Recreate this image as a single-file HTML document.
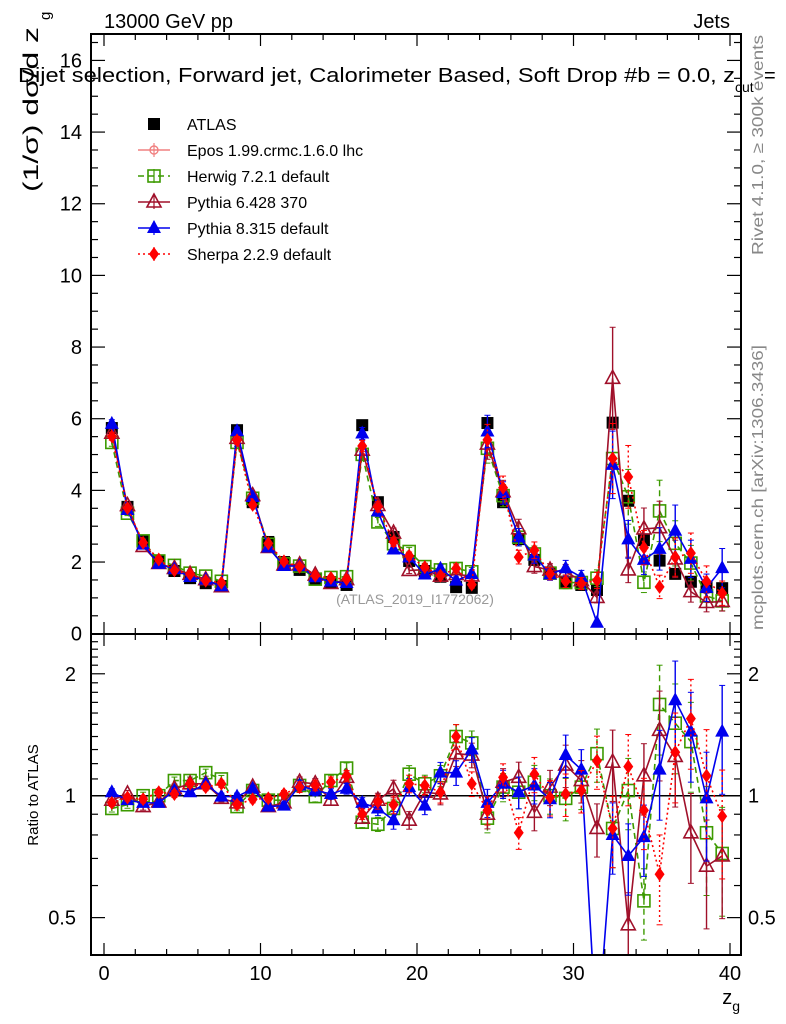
<!DOCTYPE html>
<html><head><meta charset="utf-8">
<style>
html,body{margin:0;padding:0;background:#fff;}
svg{display:block;font-family:"Liberation Sans",sans-serif;}
</style></head>
<body>
<svg id="chart" width="786" height="1024" viewBox="0 0 786 1024" xmlns="http://www.w3.org/2000/svg">
<rect x="0" y="0" width="786" height="1024" fill="#fff"/>
<g id="main"></g>
<g id="ratio"></g>
<g id="axes"></g>
<text x="104" y="28" font-size="20">13000 GeV pp</text>
<text x="730" y="28" font-size="20" text-anchor="end">Jets</text>
<text x="18" y="82" font-size="20" textLength="717" lengthAdjust="spacingAndGlyphs">Dijet selection, Forward jet, Calorimeter Based, Soft Drop #b = 0.0, z</text>
<text x="735" y="92" font-size="14">cut</text>
<text x="764" y="82" font-size="20">=</text>
<text transform="translate(38,192) rotate(-90)" font-size="21" textLength="165" lengthAdjust="spacingAndGlyphs">(1/σ) dσ/d z</text>
<text transform="translate(50,20) rotate(-90)" font-size="15">g</text>
<text transform="translate(38,795) rotate(-90)" font-size="15" text-anchor="middle">Ratio to ATLAS</text>
<text x="740" y="1004" font-size="20" text-anchor="end">z<tspan font-size="14" dy="7">g</tspan></text>
<text transform="translate(763,255) rotate(-90)" font-size="16" fill="#888" textLength="220" lengthAdjust="spacingAndGlyphs">Rivet 4.1.0, ≥ 300k events</text>
<text transform="translate(763,630) rotate(-90)" font-size="16" fill="#888" textLength="285" lengthAdjust="spacingAndGlyphs">mcplots.cern.ch [arXiv:1306.3436]</text>
<text x="415" y="604" font-size="14" fill="#999" text-anchor="middle">(ATLAS_2019_I1772062)</text>
<g id="legend"></g>
</svg>
<script>
// ---- data ----
const binCenters = [0.5,1.5,2.5,3.5,4.5,5.5,6.5,7.5,8.5,9.5,10.5,11.5,12.5,13.5,14.5,15.5,16.5,17.5,18.5,19.5,20.5,21.5,22.5,23.5,24.5,25.5,26.5,27.5,28.5,29.5,30.5,31.5,32.5,33.5,34.5,35.5,36.5,37.5,38.5,39.5];
const atlasValues = [5.74,3.54,2.59,2.03,1.75,1.55,1.41,1.33,5.68,3.67,2.56,2.0,1.78,1.53,1.44,1.36,5.82,3.67,2.7,2.03,1.75,1.59,1.30,1.28,5.88,3.67,2.64,2.06,1.69,1.45,1.36,1.22,5.89,3.71,2.61,2.04,1.67,1.45,1.30,1.27];
const herwigRatio = [0.93,0.95,1.0,1.0,1.09,1.09,1.14,1.10,0.94,1.03,0.975,0.975,1.06,0.995,1.09,1.17,0.86,0.85,0.93,1.13,1.07,1.12,1.40,1.35,0.88,1.05,1.02,1.08,1.0,0.985,1.05,1.27,0.83,1.03,0.55,1.68,1.51,1.36,0.81,0.72];
const pythia6Ratio = [0.975,1.01,0.94,0.965,1.04,1.07,1.07,0.985,0.96,1.05,0.94,0.96,1.08,1.07,0.975,1.11,0.88,0.975,1.04,0.87,1.02,1.01,1.27,1.26,0.90,1.08,1.11,0.91,1.05,1.19,1.09,0.83,1.21,0.48,1.12,1.45,1.25,0.81,0.67,0.71];
const pythia8Ratio = [1.02,0.975,0.96,0.96,1.03,1.02,1.07,0.995,0.995,1.04,0.94,0.945,1.06,1.03,1.01,1.04,0.96,0.93,0.87,1.05,0.945,1.14,1.14,1.30,0.96,1.07,1.02,1.06,0.98,1.26,1.16,0.25,0.80,0.71,0.79,1.16,1.72,1.44,0.985,1.44];
const sherpaRatio = [0.96,0.99,0.98,1.02,1.01,1.07,1.05,1.07,0.95,0.98,0.985,1.01,1.05,1.06,1.08,1.12,0.90,0.965,0.95,1.07,1.06,1.02,1.40,1.07,0.92,1.11,0.81,1.13,0.99,1.01,1.03,1.22,0.83,1.18,0.92,0.64,1.28,1.55,1.12,0.89];
const modelRelErr = [0.02,0.02,0.02,0.02,0.02,0.02,0.02,0.02,0.02,0.02,0.02,0.02,0.03,0.03,0.03,0.03,0.03,0.04,0.05,0.05,0.05,0.06,0.07,0.07,0.08,0.08,0.09,0.1,0.1,0.12,0.12,0.15,0.2,0.2,0.2,0.25,0.25,0.25,0.3,0.3];
const mainTicks = [0,2,4,6,8,10,12,14,16];
const ratioTicks = [0.5,1,2];
const xTicks = [0,10,20,30,40];

// ---- geometry ----
const L=91,R=741,T=34,MB=634,RB=955;
const xs = v => 104 + v*15.65;
const ys = v => 633.7 - v*35.83;
const yr = v => 795.7 - 405*Math.log10(v);
const NS="http://www.w3.org/2000/svg";
function mk(tag, attrs, parent){const e=document.createElementNS(NS,tag);for(const k in attrs)e.setAttribute(k,attrs[k]);parent.appendChild(e);return e;}
const main=document.getElementById('main'), ratio=document.getElementById('ratio'), axes=document.getElementById('axes'), legend=document.getElementById('legend');

const defs=mk('defs',{},document.getElementById('chart'));
const c1=mk('clipPath',{id:'cm'},defs); mk('rect',{x:L,y:T,width:R-L,height:MB-T},c1);
const c2=mk('clipPath',{id:'cr'},defs); mk('rect',{x:L,y:MB,width:R-L,height:RB-MB},c2);
main.setAttribute('clip-path','url(#cm)'); ratio.setAttribute('clip-path','url(#cr)');

const refLine=mk('line',{x1:L,x2:R,y1:yr(1),y2:yr(1),stroke:'#000','stroke-width':1.5},ratio);



function marker(g, type, x, y, color){
  let e;
  if(type==='square'){e=mk('rect',{x:x-6,y:y-6,width:12,height:12,fill:'#000'},g);}
  else if(type==='osquare'){e=mk('rect',{x:x-6,y:y-6,width:12,height:12,fill:'none',stroke:color,'stroke-width':1.6},g);}
  else if(type==='otri'){e=mk('polygon',{points:`${x},${y-8} ${x-7},${y+5} ${x+7},${y+5}`,fill:'none',stroke:color,'stroke-width':1.6},g);}
  else if(type==='tri'){e=mk('polygon',{points:`${x},${y-8} ${x-7},${y+5} ${x+7},${y+5}`,fill:color},g);}
  else if(type==='diamond'){e=mk('polygon',{points:`${x},${y-7} ${x-5},${y} ${x},${y+7} ${x+5},${y}`,fill:color},g);}
  else if(type==='ocross'){e=mk('circle',{cx:x,cy:y,r:4,fill:'none',stroke:color,'stroke-width':1.4},g);mk('line',{x1:x-6,x2:x+6,y1:y,y2:y,stroke:color},g);mk('line',{x1:x,x2:x,y1:y-6,y2:y+6,stroke:color},g);}
  return e;
}

const models=[
  {name:'herwig',ratio:herwigRatio,color:'#3c9a00',dash:'6,4',m:'osquare'},
  {name:'pythia6',ratio:pythia6Ratio,color:'#a0102a',dash:'',m:'otri'},
  {name:'pythia8',ratio:pythia8Ratio,color:'#0000ee',dash:'',m:'tri'},
  {name:'sherpa',ratio:sherpaRatio,color:'#ff0000',dash:'2,3',m:'diamond'}
];

const ag=mk('g',{},main);


atlasValues.forEach((v,i)=>{
  const e=marker(ag,'square',xs(binCenters[i]),ys(v));
  
  
});

models.forEach(md=>{
  const vals=md.ratio.map((r,i)=>r*atlasValues[i]);
  [[main,vals,ys],[ratio,md.ratio,yr]].forEach(([panel,arr,yf])=>{
    const g=mk('g',{},panel);
    
    
    const pts=arr.map((v,i)=>xs(binCenters[i])+','+yf(v)).join(' ');
    const pl=mk('polyline',{points:pts,fill:'none',stroke:md.color,'stroke-width':1.6,'stroke-dasharray':md.dash},g);
    
    
    arr.forEach((v,i)=>{
      const x=xs(binCenters[i]); const e=modelRelErr[i]*v;
      const lo=Math.max(v-e,0.01);
      const eb=mk('line',{x1:x,x2:x,y1:yf(v+e),y2:yf(lo),stroke:md.color,'stroke-width':1.4,'stroke-dasharray':md.dash},g);
      
      
      mk('line',{x1:x-3,x2:x+3,y1:yf(v+e),y2:yf(v+e),stroke:md.color},g);
      mk('line',{x1:x-3,x2:x+3,y1:yf(lo),y2:yf(lo),stroke:md.color},g);
      const mm=marker(g,md.m,x,yf(v),md.color);
      
      
    });
  });
});

const f1=mk('rect',{x:L,y:T,width:R-L,height:MB-T,fill:'none',stroke:'#000','stroke-width':2},axes);


const f2=mk('rect',{x:L,y:MB,width:R-L,height:RB-MB,fill:'none',stroke:'#000','stroke-width':2},axes);



for(let v=0; v<=41; v+=2){
  const x=xs(v); const major=(v%10===0); const len=major?12:6;
  [T,MB].forEach(y0=>mk('line',{x1:x,x2:x,y1:y0,y2:y0+len,stroke:'#000','stroke-width':1.2},axes));
  [MB,RB].forEach(y0=>mk('line',{x1:x,x2:x,y1:y0,y2:y0-len,stroke:'#000','stroke-width':1.2},axes));
}
xTicks.forEach(v=>{
  const t=mk('text',{x:xs(v),y:980,'font-size':20,'text-anchor':'middle'},axes); t.textContent=v;
  
  
});
for(let v=0; v<=16.6; v+=0.5){
  const y=ys(v); const major=(Math.abs(v%2)<1e-6); const len=major?14:7;
  mk('line',{x1:L,x2:L+len,y1:y,y2:y,stroke:'#000','stroke-width':1.2},axes);
  mk('line',{x1:R,x2:R-len,y1:y,y2:y,stroke:'#000','stroke-width':1.2},axes);
}
mainTicks.forEach(v=>{
  const t=mk('text',{x:82,y:ys(v)+7,'font-size':20,'text-anchor':'end'},axes); t.textContent=v;
  
  
});
[0.5,0.6,0.7,0.8,0.9,1,1.1,1.2,1.3,1.4,1.5,1.6,1.7,1.8,1.9,2,2.1,2.2,2.3,2.4].forEach(v=>{
  const y=yr(v); const major=ratioTicks.includes(v); const len=major?14:7;
  mk('line',{x1:L,x2:L+len,y1:y,y2:y,stroke:'#000','stroke-width':1.2},axes);
  mk('line',{x1:R,x2:R-len,y1:y,y2:y,stroke:'#000','stroke-width':1.2},axes);
});
ratioTicks.forEach(v=>{
  const t=mk('text',{x:76,y:yr(v)+7,'font-size':20,'text-anchor':'end'},axes); t.textContent=v;
  
  
  const t2=mk('text',{x:748,y:yr(v)+7,'font-size':20},axes); t2.textContent=v;
  
  
});

const legendNames=['ATLAS','Epos 1.99.crmc.1.6.0 lhc','Herwig 7.2.1 default','Pythia 6.428 370','Pythia 8.315 default','Sherpa 2.2.9 default'];
const legStyles=[['square','#000',''],['ocross','#f08080',''],['osquare','#3c9a00','6,4'],['otri','#a0102a',''],['tri','#0000ee',''],['diamond','#ff0000','2,3']];
legendNames.forEach((n,i)=>{
  const y=124+i*26;
  const g=mk('g',{},legend);
  
  
  const [m,c,d]=legStyles[i];
  if(i>0){mk('line',{x1:138,x2:170,y1:y,y2:y,stroke:c,'stroke-width':1.6,'stroke-dasharray':d},g);mk('line',{x1:154,x2:154,y1:y-7,y2:y+7,stroke:c,'stroke-width':1.2},g);}
  marker(g,m,154,y,c);
  const t=mk('text',{x:187,y:y+6,'font-size':16},g); t.textContent=n;
});
</script>
</body></html>
